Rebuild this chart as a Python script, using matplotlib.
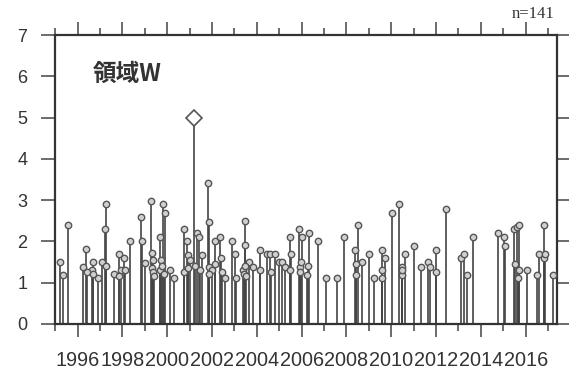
import numpy as np
import matplotlib.pyplot as plt
from matplotlib.ticker import MultipleLocator


# event time (decimal year) and magnitude
years = [
    1995.22, 1995.33, 1995.55, 1996.26, 1996.38, 1996.64, 1996.68, 1996.89,
    1997.08, 1997.25, 1997.24, 1997.63, 1997.83, 1997.95, 1998.09, 1998.35,
    1998.84, 1998.87, 1999.02, 1999.29, 1999.34, 1999.38, 1999.69, 1999.73,
    1999.83, 1999.88, 2000.13, 2000.31, 2000.73, 2000.88, 2000.95, 2001.03,
    2001.21, 2001.33, 2001.43, 2001.55, 2001.84, 2001.85, 2001.88, 2002.01,
    2002.14, 2002.37, 2002.41,
    2002.59, 2002.89, 2003.04, 2003.08, 2003.48, 2003.45, 2003.39, 2003.63,
    2003.85, 2004.12, 2004.45, 2004.60, 2004.82, 2004.97, 2005.12, 2005.27,
    2005.49, 2005.51, 2005.89, 2006.01, 2005.91, 2006.31, 2006.26, 2006.73,
    2007.10, 2007.60, 2007.90, 2008.39, 2008.41, 2008.51, 2008.69, 2008.99,
    2009.24, 2009.58, 2009.73, 2009.60, 2010.03,
    2010.36, 2010.48, 2010.49, 2010.63, 2011.03, 2011.33, 2011.64, 2011.74,
    2012.00, 2012.44, 2013.13, 2013.23, 2013.38, 2013.67, 2014.75, 2015.04,
    2015.06, 2015.50, 2015.61, 2015.71, 2015.65, 2016.06, 2016.50, 2016.61,
    2016.80, 2016.83, 2016.87, 2017.22,
    # events hidden under the dense stems
    1996.40, 1996.70, 1997.27, 1997.85, 1998.10, 1999.30, 1999.35, 1999.40,
    1999.70, 1999.75, 1999.85, 2000.75, 2000.93, 2001.22, 2001.45, 2001.86,
    2002.15, 2002.45, 2003.42, 2003.47, 2003.50, 2004.14, 2004.62, 2005.50,
    2005.92, 2005.95, 2006.30, 2008.43, 2009.59, 2010.50, 2012.01, 2015.52,
    2015.68,
]
mags = [
    1.51, 1.19, 2.40, 1.39, 1.81, 1.31, 1.51, 1.12,
    1.51, 2.90, 2.30, 1.21, 1.69, 1.31, 1.59, 2.00,
    2.60, 2.00, 1.47, 2.99, 1.72, 1.55, 2.10, 1.55,
    2.90, 2.70, 1.31, 1.12, 2.30, 2.00, 1.68, 1.55,
    5.00, 2.20, 2.10, 1.68, 3.41, 2.48, 1.37, 1.31,
    2.00, 2.10, 1.59,
    1.12, 2.00, 1.69, 1.12, 2.50, 1.92, 1.31, 1.51,
    1.39, 1.80, 1.69, 1.69, 1.69, 1.51, 1.51, 1.39,
    2.10, 1.69, 2.30, 2.10, 1.37, 2.20, 1.19, 2.00,
    1.12, 1.12, 2.10, 1.80, 1.19, 2.40, 1.51, 1.69,
    1.12, 1.80, 1.59, 1.12, 2.70,
    2.90, 1.39, 1.19, 1.69, 1.90, 1.37, 1.51, 1.39,
    1.80, 2.79, 1.59, 1.69, 1.19, 2.10, 2.20, 2.10,
    1.90, 2.30, 2.35, 2.40, 1.12, 1.31, 1.19, 1.69,
    2.40, 1.59, 1.69, 1.19,
    1.25, 1.20, 1.40, 1.15, 1.30, 1.35, 1.25, 1.15,
    1.30, 1.40, 1.20, 1.25, 1.35, 1.40, 1.30, 1.20,
    1.45, 1.25, 1.20, 1.40, 1.15, 1.30, 1.25, 1.30,
    1.25, 1.50, 1.40, 1.45, 1.30, 1.30, 1.25, 1.45,
    1.30,
]
region = "領域W"
xticks_major = list(range(1996, 2017, 2))

years = np.array(years)
mags = np.array(mags)
imax = np.argmax(mags)
rest = np.arange(len(mags)) != imax

fig = plt.figure(figsize=(5.69, 3.74), dpi=100)
ax = fig.add_axes([0.097, 0.134, 0.882, 0.772])

ax.vlines(years, 0, mags, color="#444444", lw=1.2, zorder=2)
ax.plot(years[rest], mags[rest], "o", ms=4.6, mfc="#d0d0d0", mec="#555555",
        mew=1.0, zorder=3)
ax.plot(years[imax], mags[imax], "D", ms=8.5, mfc="white", mec="#555555",
        mew=1.2, zorder=3)

ax.set_xlim(1995, 2017.4)
ax.set_ylim(0, 7)
ax.set_xticks(xticks_major)
ax.set_xticklabels([str(y) for y in xticks_major], fontsize=14.3,
                   family="Liberation Sans", color="#333333")
ax.xaxis.set_minor_locator(MultipleLocator(1))
ax.set_yticks(range(0, 8))
ax.set_yticklabels([str(v) for v in range(0, 8)], fontsize=13,
                   family="Liberation Sans", color="#333333")

for s in ax.spines.values():
    s.set_linewidth(1.6)
    s.set_color("#333333")
ax.tick_params(axis="x", which="major", direction="out", length=9.5,
               width=1.1, pad=10, top=True, color="#444444")
ax.tick_params(axis="x", which="minor", direction="out", length=5,
               width=1.1, top=True, color="#444444")
ax.tick_params(axis="y", direction="out", length=10, width=1.1, pad=10,
               right=True, color="#444444")

ax.text(0.075, 0.865, region, transform=ax.transAxes, fontsize=17,
        fontweight="bold", color="#333333",
        family=["Noto Sans CJK JP", "DejaVu Sans"], va="center")
fig.text(0.975, 0.94, "n=%d" % len(mags), fontsize=12,
         family="Liberation Serif", ha="right", va="bottom", color="#333333")

fig.savefig("out.png", dpi=100)
